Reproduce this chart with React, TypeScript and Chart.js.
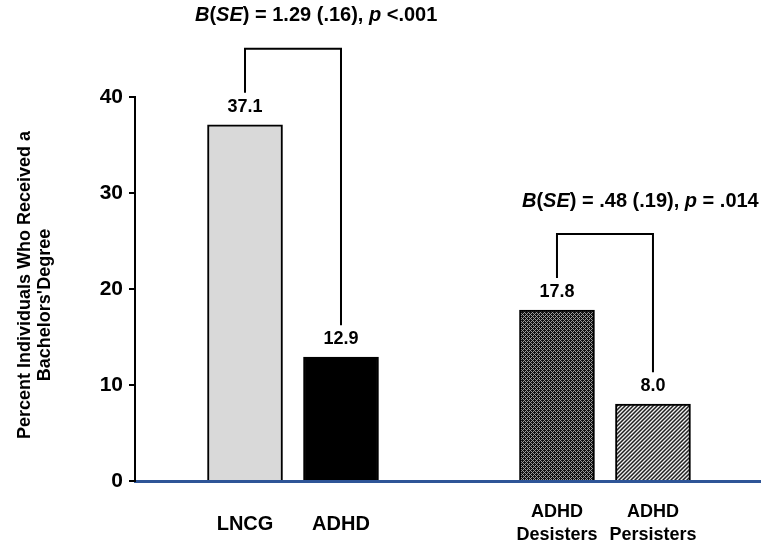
import React, { useEffect, useRef } from "react";
import { Chart, registerables } from "chart.js";

Chart.register(...registerables);

// ---- data ----
const categories: string[][] = [["LNCG"], ["ADHD"], ["ADHD", "Desisters"], ["ADHD", "Persisters"]];
const categoryPositions = [0, 1, 3.25, 4.25];
const values = [37.1, 12.9, 17.8, 8.0];
const yTickValues = [0, 10, 20, 30, 40];
const yTitleLines = ["Percent Individuals Who Received a", "Bachelors'Degree"];
const comparisonPairs = [
  [0, 1],
  [2, 3],
];
const comparisonTexts: [string, boolean][][] = [
  [["B", true], ["(", false], ["SE", true], [") = 1.29 (.16), ", false], ["p", true], [" <.001", false]],
  [["B", true], ["(", false], ["SE", true], [") = .48 (.19), ", false], ["p", true], [" = .014", false]],
];

const FONT = "'Liberation Sans', Arial, Helvetica, sans-serif";

function makePattern(kind: "dark" | "light"): CanvasPattern | string {
  const tile = document.createElement("canvas");
  tile.width = 4;
  tile.height = 4;
  const c = tile.getContext("2d");
  if (!c) return "#666";
  for (let i = 0; i < 4; i++) {
    for (let j = 0; j < 4; j++) {
      let col: string;
      if (kind === "dark") {
        col = (i + j) % 4 === 0 || (i - j + 4) % 4 === 0 ? "#9a9a9a" : "#111111";
      } else {
        const d = (i + j) % 4;
        col = d === 0 ? "#f0f0f0" : d === 2 ? "#202020" : "#808080";
      }
      c.fillStyle = col;
      c.fillRect(i, j, 1, 1);
    }
  }
  const main = document.createElement("canvas").getContext("2d");
  return (main && main.createPattern(tile, "repeat")) || "#666";
}

const annotationPlugin = {
  id: "annotations",
  afterDatasetsDraw(chart: any) {
    const ctx: CanvasRenderingContext2D = chart.ctx;
    const meta = chart.getDatasetMeta(0);
    const bars = meta.data;
    ctx.save();
    // value labels
    ctx.fillStyle = "#000";
    ctx.font = `bold 18px ${FONT}`;
    ctx.textAlign = "center";
    ctx.textBaseline = "middle";
    bars.forEach((b: any, i: number) => {
      ctx.fillText(values[i].toFixed(1), b.x, b.y - 18);
    });
    // brackets
    const textOffsets = [-50, -35];
    comparisonPairs.forEach(([a, bIdx], k) => {
      const ba = bars[a];
      const bb = bars[bIdx];
      const endA = ba.y - 32;
      const endB = bb.y - 32;
      const top = Math.min(endA, endB) - 44;
      ctx.strokeStyle = "#000";
      ctx.lineWidth = 2;
      ctx.beginPath();
      ctx.moveTo(ba.x, endA);
      ctx.lineTo(ba.x, top);
      ctx.lineTo(bb.x, top);
      ctx.lineTo(bb.x, endB);
      ctx.stroke();
      // text
      let x = ba.x + textOffsets[k];
      const y = top - 33;
      ctx.textAlign = "left";
      ctx.textBaseline = "middle";
      comparisonTexts[k].forEach(([s, it]) => {
        ctx.font = `${it ? "italic " : ""}bold 20px ${FONT}`;
        ctx.fillText(s, x, y);
        x += ctx.measureText(s).width;
      });
    });
    // y-axis title
    ctx.font = `bold 18px ${FONT}`;
    ctx.textAlign = "center";
    ctx.textBaseline = "alphabetic";
    const titlePos = [
      [30, 285],
      [50, 305],
    ];
    yTitleLines.forEach((line, i) => {
      ctx.save();
      ctx.translate(titlePos[i][0], titlePos[i][1]);
      ctx.rotate(-Math.PI / 2);
      ctx.fillText(line, 0, 0);
      ctx.restore();
    });
    ctx.restore();
  },
};

export default function App() {
  const ref = useRef<HTMLCanvasElement>(null);
  useEffect(() => {
    if (!ref.current) return;
    Chart.defaults.font.family = FONT;
    const fills = ["#d9d9d9", "#000000", makePattern("dark"), makePattern("light")];
    const chart = new Chart(ref.current, {
      type: "bar",
      data: {
        datasets: [
          {
            data: values.map((v, i) => ({ x: categoryPositions[i], y: v })) as any,
            backgroundColor: fills as any,
            borderColor: "#000",
            borderWidth: 2,
            barThickness: 75,
          },
        ],
      },
      options: {
        responsive: false,
        animation: false,
        layout: { padding: { left: 0, right: 8, top: 97, bottom: 0 } },
        plugins: { legend: { display: false }, tooltip: { enabled: false } },
        scales: {
          x: {
            type: "linear",
            offset: false,
            min: -1.146,
            max: 5.365,
            grid: { display: false, offset: false },
            border: { display: true, color: "#2f5597", width: 3 },
            afterBuildTicks: (scale: any) => {
              scale.ticks = categoryPositions.map((v) => ({ value: v }));
            },
            afterFit: (scale: any) => {
              scale.height = 59;
            },
            ticks: {
              autoSkip: false,
              maxRotation: 0,
              padding: 12,
              color: "#000",
              font: (c: any) =>
                c.index < 2
                  ? { size: 20, weight: "bold", lineHeight: "46px", family: FONT }
                  : { size: 18, weight: "bold", lineHeight: "23px", family: FONT },
              callback: (_v: any, i: number) => categories[i],
            },
          },
          y: {
            min: 0,
            max: 40,
            afterBuildTicks: (scale: any) => {
              scale.ticks = yTickValues.map((v) => ({ value: v }));
            },
            afterFit: (scale: any) => {
              scale.width = 135;
            },
            grid: { display: true, drawOnChartArea: false, drawTicks: true, tickLength: 6, color: "#000", lineWidth: 2 },
            border: { display: true, color: "#000", width: 2 },
            ticks: {
              padding: 6,
              color: "#000",
              font: { size: 21, weight: "bold", family: FONT },
            },
          },
        },
      },
      plugins: [annotationPlugin],
    });
    return () => chart.destroy();
  }, []);
  return (
    <div style={{ position: "absolute", left: 0, top: 0, width: 768, height: 540, background: "#fff" }}>
      <canvas ref={ref} width={768} height={540} style={{ display: "block" }} />
    </div>
  );
}
